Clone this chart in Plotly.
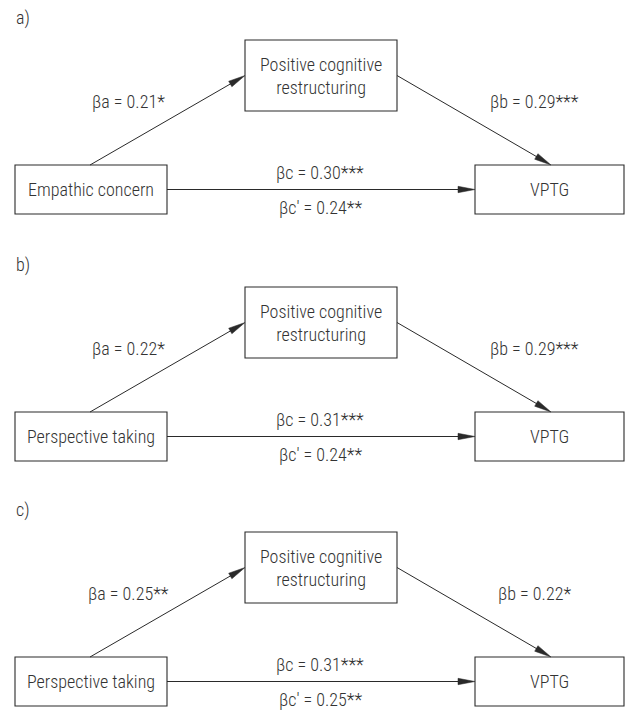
import math
import plotly.graph_objects as go

# ---- content ----
panel_labels = ["a)", "b)", "c)"]
predictors = ["Empathic concern", "Perspective taking", "Perspective taking"]
mediator_label = "Positive cognitive<br>restructuring"
outcome_label = "VPTG"
beta_a = ["0.21*", "0.22*", "0.25**"]
beta_b = ["0.29***", "0.29***", "0.22*"]
beta_c = ["0.30***", "0.31***", "0.31***"]
beta_c_prime = ["0.24**", "0.24**", "0.25**"]

# ---- layout geometry (pixels, y downward) ----
W, H = 625, 711
panel_dy = [0, 247, 492]
LEFT = (15, 167, 165, 214)   # x0, x1, y0, y1
MED = (245, 397, 40, 111)
OUT = (475, 624, 165, 214)

FONT = "Roboto Condensed, DejaVu Sans Condensed, sans-serif"
TXT = "#333333"
LINE = "#2a2a2a"
FS = 18

shapes = []
annotations = []


def box(b, dy):
    shapes.append(dict(type="rect", x0=b[0], x1=b[1], y0=b[2] + dy, y1=b[3] + dy,
                       line=dict(color=LINE, width=1.1), fillcolor="rgba(0,0,0,0)"))


def text(x, y, s, size=FS, xanchor="center"):
    annotations.append(dict(x=x, y=y, text=s, showarrow=False, xanchor=xanchor, yanchor="middle",
                            font=dict(family=FONT, size=size, color=TXT, weight=300),
                            xref="x", yref="y"))


def arrow(x0, y0, x1, y1, head_len=17, head_w=3.2):
    dx, dy = x1 - x0, y1 - y0
    L = math.hypot(dx, dy)
    ux, uy = dx / L, dy / L
    bx, by = x1 - ux * head_len, y1 - uy * head_len
    shapes.append(dict(type="line", x0=x0, y0=y0, x1=bx + ux * 3, y1=by + uy * 3,
                       line=dict(color=LINE, width=1)))
    px, py = -uy, ux
    path = (f"M{x1:.2f},{y1:.2f} L{bx + px * head_w:.2f},{by + py * head_w:.2f} "
            f"L{bx - px * head_w:.2f},{by - py * head_w:.2f} Z")
    shapes.append(dict(type="path", path=path, fillcolor=LINE, line=dict(color=LINE, width=0.5)))


for i, dy in enumerate(panel_dy):
    box(LEFT, dy)
    box(MED, dy)
    box(OUT, dy)
    text(14, 18 + dy, panel_labels[i], xanchor="left")
    text((LEFT[0] + LEFT[1]) / 2, (LEFT[2] + LEFT[3]) / 2 + dy, predictors[i])
    text((MED[0] + MED[1]) / 2, (MED[2] + MED[3]) / 2 + dy, mediator_label)
    text((OUT[0] + OUT[1]) / 2, (OUT[2] + OUT[3]) / 2 + dy, outcome_label)
    # paths
    arrow(90, LEFT[2] + dy, MED[0], (MED[2] + MED[3]) / 2 + dy)
    arrow(MED[1], (MED[2] + MED[3]) / 2 + dy, 551, OUT[2] + dy)
    arrow(LEFT[1], (LEFT[2] + LEFT[3]) / 2 + dy, OUT[0], (OUT[2] + OUT[3]) / 2 + dy)
    # coefficients
    text(128, 101 + dy, "βa = " + beta_a[i])
    text(534, 101 + dy, "βb = " + beta_b[i])
    text(320, 172 + dy, "βc = " + beta_c[i])
    text(320, 207 + dy, "βc' = " + beta_c_prime[i])

fig = go.Figure()
fig.update_layout(
    width=W, height=H, margin=dict(l=0, r=0, t=0, b=0),
    paper_bgcolor="white", plot_bgcolor="white",
    xaxis=dict(range=[0, W], visible=False, fixedrange=True),
    yaxis=dict(range=[H, 0], visible=False, fixedrange=True),
    shapes=shapes, annotations=annotations, showlegend=False,
)
fig.write_html("out.html", config={"displayModeBar": False},
               post_script="document.body.style.margin='0';")
